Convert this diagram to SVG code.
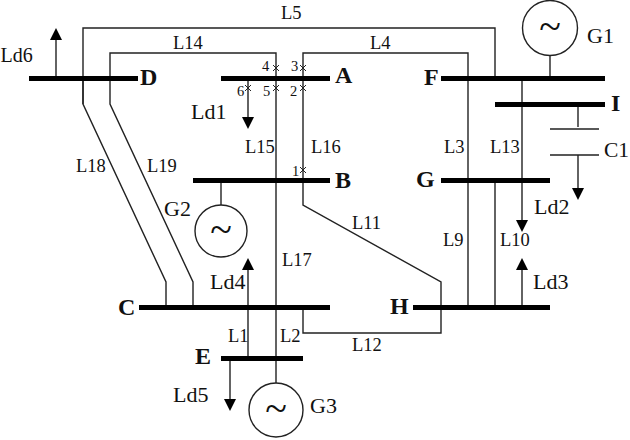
<svg xmlns="http://www.w3.org/2000/svg" width="630" height="440" viewBox="0 0 630 440">
<style>
text{font-family:"Liberation Serif","Times New Roman",serif;fill:#111;font-size:18.500px}
.s{font-size:14.500px}
.b{font-weight:bold;font-size:24px}
.g{font-size:22px}
.t{font-size:40px;text-anchor:middle}
.bus{stroke:#000;stroke-width:5;fill:none}
.l{stroke:#222;stroke-width:1.400;fill:none}
.m{stroke:#222;stroke-width:1;fill:none}
.h{fill:#000}
circle{fill:#fff;stroke:#222;stroke-width:1.400}
</style>
<defs>
<polygon id="up" class="h" points="0,0 -6,12 6,12"/>
<polygon id="dn" class="h" points="0,0 -6,-12 6,-12"/>
</defs>
<rect width="630" height="440" fill="#fff"/>
<g id="connectors">
<path class="l" d="M83 104V28H495V78"/>
<path class="l" d="M83 78V104L166 282V307"/>
<path class="l" d="M110 78V53H276V385"/>
<path class="l" d="M110 78V104L193 282V307"/>
<path class="l" d="M468 78V53H303V205L441 282V307"/>
<path class="l" d="M468 78V307"/>
<path class="l" d="M495 180V307"/>
<path class="l" d="M522 78V220"/>
<path class="l" d="M303 307V333H441V307"/>
<path class="l" d="M550 55V78"/>
<path class="l" d="M578 104V127"/>
<path class="l" d="M550 129H599M550 155H599"/>
<path class="l" d="M578 155V190"/>
<path class="l" d="M221 180V205"/>
<path class="l" d="M248 78V118"/>
<path class="l" d="M56 78V40"/>
<path class="l" d="M248 358V268"/>
<path class="l" d="M522 307V268"/>
<path class="l" d="M230 358V400"/>
<use href="#dn" x="248" y="129"/>
<use href="#up" x="56" y="28"/>
<use href="#dn" x="578" y="200"/>
<use href="#dn" x="522" y="232"/>
<use href="#up" x="248" y="258"/>
<use href="#up" x="522" y="258"/>
<use href="#dn" x="230" y="411"/>
<path class="m" d="M273 65l6 6m0-6l-6 6M300 65l6 6m0-6l-6 6M273 85l6 6m0-6l-6 6M300 85l6 6m0-6l-6 6M245 85l6 6m0-6l-6 6M300 167l6 6m0-6l-6 6"/>
</g>
<g id="bus-A"><path class="bus" d="M221 78.500H330"/><text class="b" x="335" y="83">A</text></g>
<g id="bus-B"><path class="bus" d="M193 180.500H330"/><text class="b" x="335" y="188">B</text></g>
<g id="bus-C"><path class="bus" d="M139 307.500H330"/><text class="b" x="118" y="315">C</text></g>
<g id="bus-D"><path class="bus" d="M29 78.500H138"/><text class="b" x="140" y="85">D</text></g>
<g id="bus-E"><path class="bus" d="M221 358.500H303"/><text class="b" x="195" y="364">E</text></g>
<g id="bus-F"><path class="bus" d="M441 78.500H605"/><text class="b" x="424" y="85">F</text></g>
<g id="bus-G"><path class="bus" d="M441 180.500H550"/><text class="b" x="416" y="187">G</text></g>
<g id="bus-H"><path class="bus" d="M413 307.500H550"/><text class="b" x="390" y="314">H</text></g>
<g id="bus-I"><path class="bus" d="M495 104.500H605"/><text class="b" x="611" y="111">I</text></g>
<g id="gen-G1"><circle cx="550" cy="28" r="27.500"/><text class="t" x="550" y="40">~</text><text class="g" x="587" y="43">G1</text></g>
<g id="gen-G2"><circle cx="221" cy="231" r="26"/><text class="t" x="221" y="243">~</text><text class="g" x="164" y="216">G2</text></g>
<g id="gen-G3"><circle cx="276" cy="410" r="27"/><text class="t" x="276" y="422">~</text><text class="g" x="310" y="413">G3</text></g>
<g id="cap-C1"><text class="g" x="604" y="157" style="font-size:21.500px">C1</text></g>
<g id="labels">
<text x="281" y="19">L5</text>
<text x="173" y="49">L14</text>
<text x="370" y="49">L4</text>
<text x="245" y="153">L15</text>
<text x="311" y="153">L16</text>
<text x="76" y="172">L18</text>
<text x="147" y="172">L19</text>
<text x="444" y="153">L3</text>
<text x="490" y="153">L13</text>
<text x="352" y="229">L11</text>
<text x="443" y="246">L9</text>
<text x="500" y="246">L10</text>
<text x="282" y="266">L17</text>
<text x="228" y="342">L1</text>
<text x="280" y="342">L2</text>
<text x="352" y="351">L12</text>
<text class="g" x="0.500" y="62" style="font-size:20px">Ld6</text>
<text class="g" x="191" y="119">Ld1</text>
<text class="g" x="534" y="214">Ld2</text>
<text class="g" x="533" y="289">Ld3</text>
<text class="g" x="210" y="289">Ld4</text>
<text class="g" x="173" y="402">Ld5</text>
<text class="s" x="262" y="71">4</text>
<text class="s" x="291" y="71">3</text>
<text class="s" x="290" y="96">2</text>
<text class="s" x="263" y="96">5</text>
<text class="s" x="237" y="96">6</text>
<text class="s" x="292" y="176">1</text>
</g>
</svg>
